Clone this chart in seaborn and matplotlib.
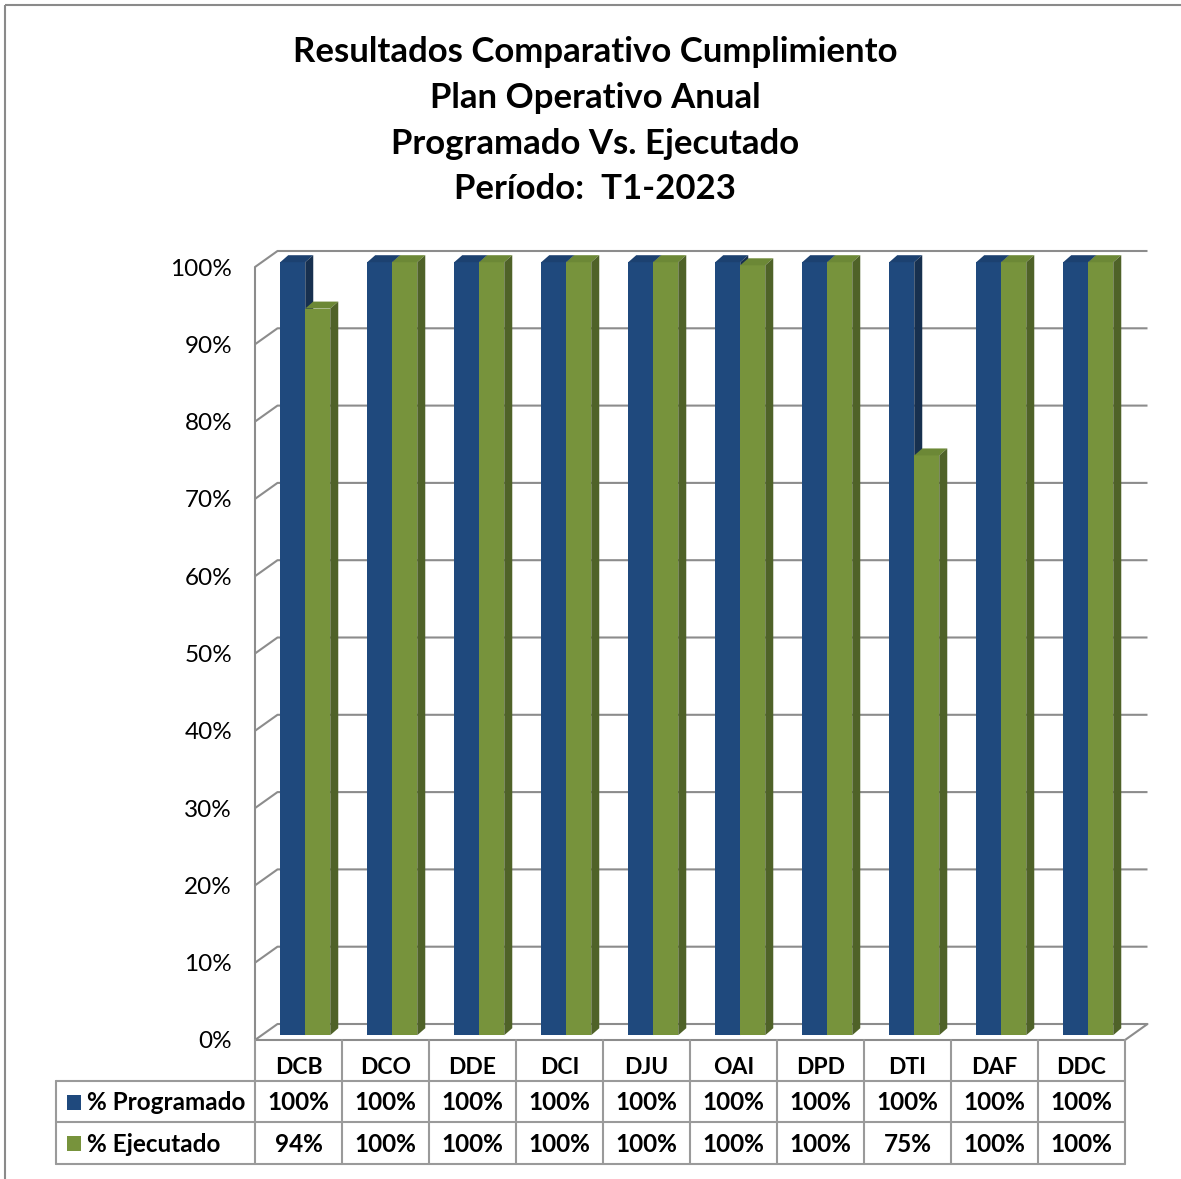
import numpy as np
import pandas as pd
import matplotlib
matplotlib.use("Agg")
import matplotlib.pyplot as plt
import seaborn as sns
from matplotlib import transforms as mtrans
from matplotlib.patches import Polygon, Rectangle
from matplotlib.lines import Line2D

# ---------------- data ----------------
categories = ['DCB', 'DCO', 'DDE', 'DCI', 'DJU', 'OAI', 'DPD', 'DTI', 'DAF', 'DDC']
programado = [1.00, 1.00, 1.00, 1.00, 1.00, 1.00, 1.00, 1.00, 1.00, 1.00]
ejecutado = [0.94, 1.00, 1.00, 1.00, 1.00, 0.996, 1.00, 0.75, 1.00, 1.00]
series_names = ['% Programado', '% Ejecutado']
yticks = [0.0, 0.1, 0.2, 0.3, 0.4, 0.5, 0.6, 0.7, 0.8, 0.9, 1.0]
ytick_labels = ['0%', '10%', '20%', '30%', '40%', '50%', '60%', '70%', '80%', '90%', '100%']
title_lines = ['Resultados Comparativo Cumplimiento',
               'Plan Operativo Anual',
               'Programado Vs. Ejecutado',
               'Período:  T1-2023']

# ---------------- style ----------------
BLUE, BLUE_SIDE, BLUE_TOP = '#1F497D', '#17304F', '#1C4170'
GREEN, GREEN_SIDE, GREEN_TOP = '#77933C', '#4F6228', '#6C8836'
GRAY = '#8c8c8c'
TGRAY = '#9a9a9a'

W, H, DPI = 1181, 1179, 100
sns.set_theme(style='white')
plt.rcParams['font.family'] = ['Lato', 'DejaVu Sans']

fig = plt.figure(figsize=(W / DPI, H / DPI), dpi=DPI)
fig.patch.set_facecolor('white')

over = fig.add_axes([0, 0, 1, 1], zorder=0)
over.set_xlim(0, W)
over.set_ylim(H, 0)
over.axis('off')

X0, X1, Y0, Y1 = 255, 1125, 1040, 267
ax = fig.add_axes([X0 / W, 1 - Y0 / H, (X1 - X0) / W, (Y0 - Y1) / H], zorder=1)
ax.patch.set_alpha(0)

df = pd.DataFrame({
    'cat': categories * 2,
    'val': programado + ejecutado,
    'serie': [series_names[0]] * len(categories) + [series_names[1]] * len(categories),
})
sns.barplot(data=df, x='cat', y='val', hue='serie', order=categories,
            hue_order=series_names, palette=[BLUE, GREEN], width=0.575,
            saturation=1, errorbar=None, legend=False, ax=ax)

ax.set_xlim(-0.5, len(categories) - 0.5)
ax.set_ylim(0, 1)
ax.set_xticks([])
ax.set_xlabel('')
ax.set_ylabel('')
ax.set_yticks(yticks)
ax.set_yticklabels(ytick_labels, fontsize=17.5, color='black')
ax.tick_params(axis='y', length=0, pad=16.5)
for s in ax.spines.values():
    s.set_visible(False)

# pixel helpers
def pix(x, y):
    d = ax.transData.transform((x, y))
    return over.transData.inverted().transform(d)

ppx = (X1 - X0) / len(categories)  # pixels per category
ppy = (Y0 - Y1)                      # pixels per unit value
ux, uy = 1.0 / ppx, 1.0 / ppy

# bars 3D look
bar_tr = mtrans.offset_copy(ax.transData, fig=fig, x=6.75, y=4.8, units='dots')
bdx, bdy = 8 * ux, 7 * uy
patches = sorted([p for p in ax.patches if isinstance(p, Rectangle)], key=lambda p: p.get_x())
z = 2
for p in patches:
    fc = matplotlib.colors.to_hex(p.get_facecolor())
    is_blue = fc.lower() == BLUE.lower()
    side_c = BLUE_SIDE if is_blue else GREEN_SIDE
    top_c = BLUE_TOP if is_blue else GREEN_TOP
    p.set_transform(bar_tr)
    p.set_linewidth(0)
    p.set_zorder(z)
    p.set_clip_on(False)
    x, w, h = p.get_x(), p.get_width(), p.get_height()
    top = Polygon([(x, h), (x + w, h), (x + w + bdx, h + bdy), (x + bdx, h + bdy)],
                  closed=True, facecolor=top_c, edgecolor='none', transform=bar_tr,
                  zorder=z, clip_on=False)
    side = Polygon([(x + w, 0), (x + w + bdx, bdy), (x + w + bdx, h + bdy), (x + w, h)],
                   closed=True, facecolor=side_c, edgecolor='none', transform=bar_tr,
                   zorder=z, clip_on=False)
    ax.add_patch(top)
    ax.add_patch(side)
    z += 1

# walls / gridlines
DX, DY = 22.5, -16
xl, xr = -0.5, len(categories) - 0.5
for t in yticks:
    fl = pix(xl, t)
    fr = pix(xr, t)
    over.add_line(Line2D([fl[0], fl[0] + DX, fr[0] + DX], [fl[1], fl[1] + DY, fr[1] + DY],
                         color=GRAY, lw=1.5, solid_capstyle='butt'))
a = pix(xl, 0); b = pix(xl, 1)
over.add_line(Line2D([a[0], b[0]], [a[1], b[1]], color=GRAY, lw=1.5))
c = pix(xr, 0)
over.add_line(Line2D([a[0], c[0], c[0] + DX], [a[1], c[1], c[1] + DY], color=GRAY, lw=1.5))

# data table
ROW_TOP, ROW1, ROW2, ROW_BOT = 1040, 1081, 1122, 1164
TLEFT = 56
for i in range(len(categories) + 1):
    px_ = pix(i - 0.5, 0)[0]
    over.add_line(Line2D([px_, px_], [ROW_TOP, ROW_BOT], color=TGRAY, lw=1.5))
for yy in [ROW1, ROW2, ROW_BOT]:
    over.add_line(Line2D([TLEFT, pix(xr, 0)[0]], [yy, yy], color=TGRAY, lw=1.5))
over.add_line(Line2D([TLEFT, TLEFT], [ROW1, ROW_BOT], color=TGRAY, lw=1.5))

blend = mtrans.blended_transform_factory(ax.transData, over.transData)
yc_head, yc_r1, yc_r2 = 1068, 1103, 1144
for i, cat in enumerate(categories):
    over.text(i, yc_head, cat, transform=blend, ha='center', va='center',
              fontsize=16.5, fontweight='bold', color='black')
    over.text(i, yc_r1, f'{round(programado[i] * 100):.0f}%', transform=blend, ha='center',
              va='center', fontsize=17.5, fontweight='bold', color='black')
    over.text(i, yc_r2, f'{round(ejecutado[i] * 100):.0f}%', transform=blend, ha='center',
              va='center', fontsize=17.5, fontweight='bold', color='black')

for yc, name, col in [(yc_r1, series_names[0], BLUE), (yc_r2, series_names[1], GREEN)]:
    over.add_patch(Rectangle((67, yc - 8), 14, 15, facecolor=col, edgecolor='none'))
    over.text(87, yc, name, ha='left', va='center', fontsize=17.5, fontweight='bold', color='black')

# title
for yc, line in zip([52, 98, 144, 189], title_lines):
    over.text(595, yc, line, ha='center', va='center', fontsize=25, fontweight='bold', color='black')

# outer frame
over.add_patch(Rectangle((5, 5), 1300, 1300, facecolor='none', edgecolor='#8a8a8a', lw=1.5))

fig.savefig('out.png', dpi=DPI, facecolor='white')
